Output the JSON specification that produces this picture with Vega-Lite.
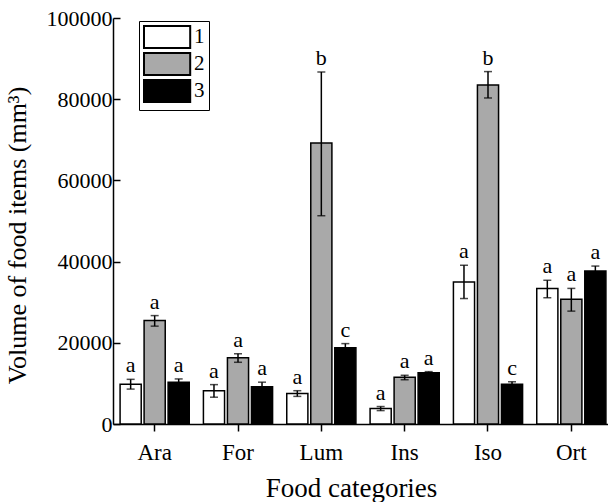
{
  "$schema": "https://vega.github.io/schema/vega-lite/v6.json",
  "width": 495,
  "height": 406,
  "autosize": {"type": "none"},
  "padding": {"left": 113, "top": 18, "right": 0, "bottom": 78},
  "background": "white",
  "config": {
    "font": "Liberation Serif",
    "view": {"stroke": null},
    "axis": {"domainColor": "black", "tickColor": "black", "labelColor": "black", "titleColor": "black", "domainWidth": 1.5, "tickWidth": 1.5, "grid": false, "labelFont": "Liberation Serif", "titleFont": "Liberation Serif", "titleFontWeight": "normal"},
    "legend": {"labelFont": "Liberation Serif"}
  },
  "data": {
    "values": [
      {"cat": "Ara", "group": "1", "mean": 9800, "lo": 8600, "hi": 11000, "letter": "a"},
      {"cat": "Ara", "group": "2", "mean": 25500, "lo": 24100, "hi": 26700, "letter": "a"},
      {"cat": "Ara", "group": "3", "mean": 10300, "lo": 9600, "hi": 11100, "letter": "a"},
      {"cat": "For", "group": "1", "mean": 8200, "lo": 6600, "hi": 9700, "letter": "a"},
      {"cat": "For", "group": "2", "mean": 16300, "lo": 15200, "hi": 17300, "letter": "a"},
      {"cat": "For", "group": "3", "mean": 9200, "lo": 8300, "hi": 10300, "letter": "a"},
      {"cat": "Lum", "group": "1", "mean": 7500, "lo": 6800, "hi": 8200, "letter": "a"},
      {"cat": "Lum", "group": "2", "mean": 69200, "lo": 51300, "hi": 86700, "letter": "b"},
      {"cat": "Lum", "group": "3", "mean": 18800, "lo": 17800, "hi": 19800, "letter": "c"},
      {"cat": "Ins", "group": "1", "mean": 3800, "lo": 3300, "hi": 4300, "letter": "a"},
      {"cat": "Ins", "group": "2", "mean": 11500, "lo": 10900, "hi": 12000, "letter": "a"},
      {"cat": "Ins", "group": "3", "mean": 12600, "lo": 12300, "hi": 12900, "letter": "a"},
      {"cat": "Iso", "group": "1", "mean": 35000, "lo": 30900, "hi": 39100, "letter": "a"},
      {"cat": "Iso", "group": "2", "mean": 83500, "lo": 80300, "hi": 86800, "letter": "b"},
      {"cat": "Iso", "group": "3", "mean": 9800, "lo": 9200, "hi": 10400, "letter": "c"},
      {"cat": "Ort", "group": "1", "mean": 33400, "lo": 31100, "hi": 35400, "letter": "a"},
      {"cat": "Ort", "group": "2", "mean": 30700, "lo": 27800, "hi": 33400, "letter": "a"},
      {"cat": "Ort", "group": "3", "mean": 37700, "lo": 36500, "hi": 38900, "letter": "a"}
    ]
  },
  "encoding": {
    "x": {
      "field": "cat", "type": "nominal",
      "sort": ["Ara", "For", "Lum", "Ins", "Iso", "Ort"],
      "scale": {"range": [0, 500], "paddingInner": 0.17, "paddingOuter": 0.085},
      "axis": {"labelAngle": 0, "labelFontSize": 23, "tickSize": 7, "labelPadding": 10, "title": "Food categories", "titleFontSize": 27, "titleBaseline": "alphabetic", "titleX": 238, "titleY": 72, "titleAnchor": "middle"}
    },
    "xOffset": {"field": "group", "type": "nominal", "scale": {"paddingInner": 0.12}}
  },
  "layer": [
    {
      "mark": {"type": "bar", "stroke": "black", "strokeWidth": 1.5},
      "encoding": {
        "y": {
          "field": "mean", "type": "quantitative",
          "scale": {"domain": [0, 100000], "nice": false},
          "axis": {"values": [0, 20000, 40000, 60000, 80000, 100000], "format": "d", "labelFontSize": 22, "tickSize": -7, "labelPadding": 8, "title": "Volume of food items (mm³)", "titleFontSize": 26, "titleBaseline": "alphabetic", "titleX": -88, "titleY": 217, "titleAngle": -90}
        },
        "color": {
          "field": "group", "type": "nominal",
          "scale": {"domain": ["1", "2", "3"], "range": ["white", "#a9a9a9", "black"]},
          "legend": {
            "orient": "none", "legendX": 26, "legendY": 3, "title": null,
            "strokeColor": "black", "padding": 4,
            "symbolType": "M-1,-1H3.2V1H-1Z", "symbolSize": 484,
            "symbolStrokeColor": "black", "symbolStrokeWidth": 2, "symbolOpacity": 1,
            "labelFontSize": 21, "labelOffset": 27, "rowPadding": -5, "labelColor": "black"
          }
        }
      }
    },
    {
      "mark": {"type": "rule", "color": "black", "strokeWidth": 1.5},
      "encoding": {"y": {"field": "lo", "type": "quantitative"}, "y2": {"field": "hi"}}
    },
    {
      "mark": {"type": "tick", "color": "black", "size": 8, "thickness": 1.5},
      "encoding": {"y": {"field": "lo", "type": "quantitative"}}
    },
    {
      "mark": {"type": "tick", "color": "black", "size": 8, "thickness": 1.5},
      "encoding": {"y": {"field": "hi", "type": "quantitative"}}
    },
    {
      "mark": {"type": "text", "baseline": "alphabetic", "dy": -7, "fontSize": 22, "font": "Liberation Serif", "color": "black"},
      "encoding": {"y": {"field": "hi", "type": "quantitative"}, "text": {"field": "letter"}}
    }
  ]
}
